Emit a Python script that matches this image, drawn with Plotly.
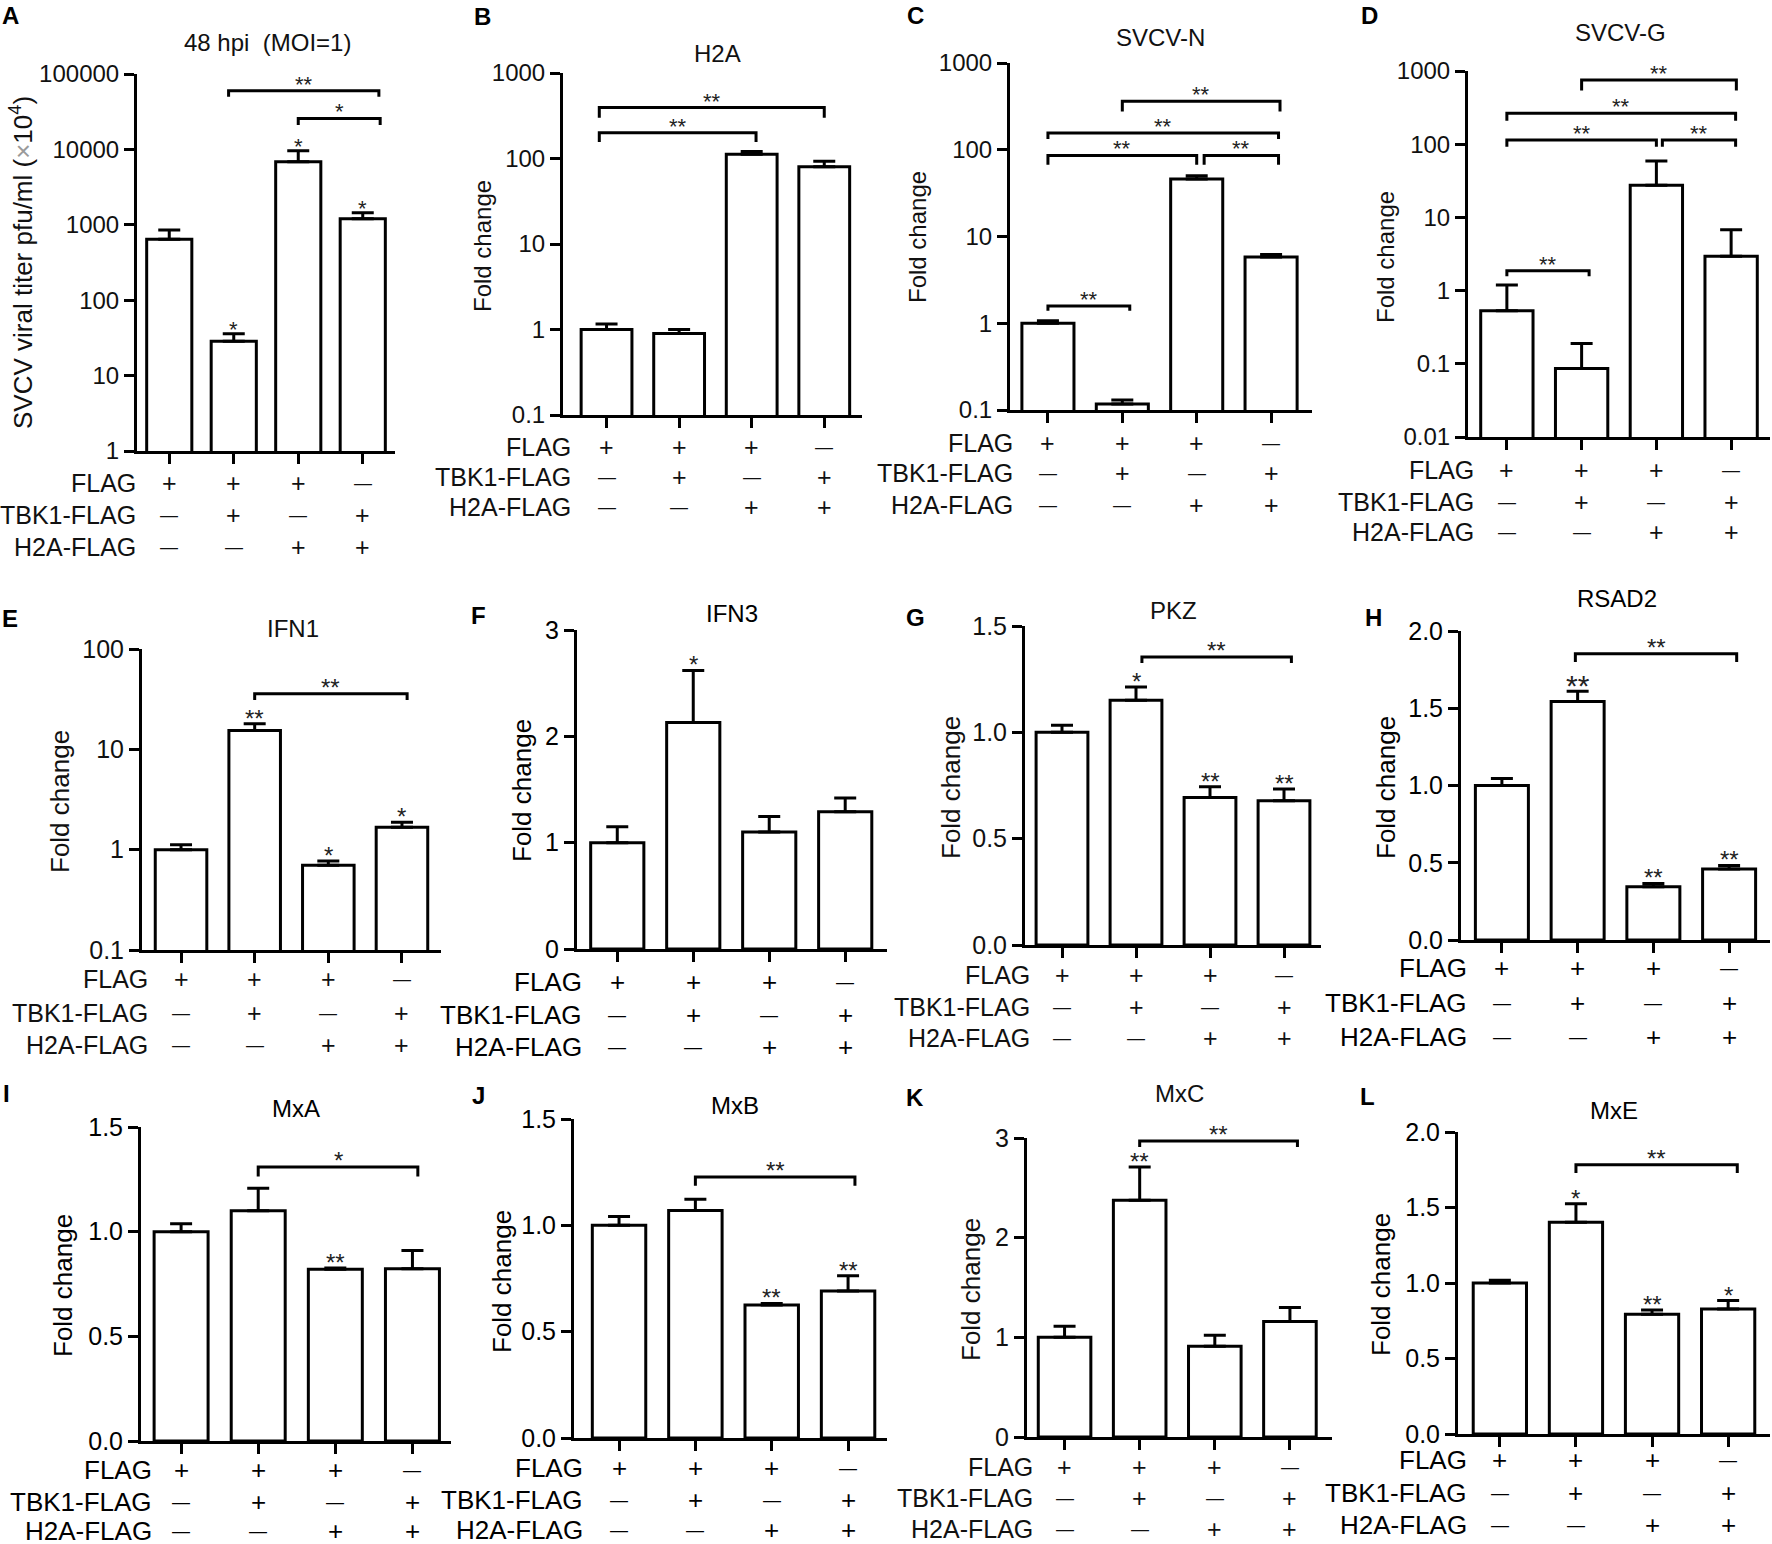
import math
import plotly.graph_objects as go

W, H = 1772, 1544
FONT = "Liberation Sans, Arial, sans-serif"

# ---------------- values ----------------
titles = ["48 hpi\u00a0\u00a0(MOI=1)", "H2A", "SVCV-N", "SVCV-G", "IFN1", "IFN3",
          "PKZ", "RSAD2", "MxA", "MxB", "MxC", "MxE"]
row_names = ["FLAG", "TBK1-FLAG", "H2A-FLAG"]
flag_signs = ["+", "+", "+", "\u2014"]
tbk1_signs = ["\u2014", "+", "\u2014", "+"]
h2a_signs = ["\u2014", "\u2014", "+", "+"]

a_mean = [645, 28.6, 6860, 1200]
a_sem = [205, 7.4, 2740, 240]
b_mean = [1.0, 0.90, 112, 80]
b_sem = [0.16, 0.10, 9, 13]
c_mean = [1.0, 0.117, 46, 5.8]
c_sem = [0.07, 0.013, 4, 0.4]
d_mean = [0.53, 0.086, 27.6, 2.95]
d_sem = [0.66, 0.103, 31.4, 3.85]
e_mean = [1.0, 15.4, 0.70, 1.67]
e_sem = [0.12, 2.6, 0.07, 0.21]
f_mean = [1.0, 2.13, 1.10, 1.29]
f_sem = [0.15, 0.49, 0.146, 0.13]
g_mean = [1.0, 1.151, 0.694, 0.678]
g_sem = [0.033, 0.062, 0.05, 0.056]
h_mean = [1.0, 1.543, 0.345, 0.459]
h_sem = [0.045, 0.067, 0.021, 0.024]
i_mean = [1.0, 1.10, 0.821, 0.823]
i_sem = [0.038, 0.108, 0.005, 0.087]
j_mean = [1.0, 1.07, 0.625, 0.691]
j_sem = [0.041, 0.053, 0.008, 0.072]
k_mean = [1.0, 2.375, 0.91, 1.16]
k_sem = [0.11, 0.335, 0.11, 0.14]
l_mean = [1.0, 1.403, 0.793, 0.827]
l_sem = [0.019, 0.122, 0.029, 0.057]

# y ticks
ticks_A = [1, 10, 100, 1000, 10000, 100000]
ticks_BC = [0.1, 1, 10, 100, 1000]
ticks_D = [0.01, 0.1, 1, 10, 100, 1000]
ticks_E = [0.1, 1, 10, 100]
ticks_3 = [0, 1, 2, 3]
ticks_15 = [0.0, 0.5, 1.0, 1.5]
ticks_20 = [0.0, 0.5, 1.0, 1.5, 2.0]

# stars over single bars
stars = {
    "A": ["", "*", "*", "*"],
    "E": ["", "**", "*", "*"],
    "F": ["", "*", "", ""],
    "G": ["", "*", "**", "**"],
    "H": ["", "**", "**", "**"],
    "I": ["", "", "**", ""],
    "J": ["", "", "**", "**"],
    "K": ["", "**", "", ""],
    "L": ["", "*", "**", "*"],
}

# comparison brackets: (from bar, to bar, bracket level, leg end, label)
brackets = {
    "A": [(0.92, 3.25, 60000, 50000, "**"), (2.0, 3.27, 25700, 21000, "*")],
    "B": [(-0.1, 3.0, 394, 300, "**"), (-0.1, 2.06, 200, 156, "**")],
    "C": [(0.0, 1.1, 1.58, 1.39, "**"), (0.0, 2.0, 86, 67, "**"),
          (2.1, 3.1, 86, 67, "**"), (0.0, 3.1, 156, 133, "**"),
          (1.0, 3.12, 363, 276, "**")],
    "D": [(0.0, 1.1, 1.86, 1.57, "**"), (0.0, 2.0, 114, 92, "**"),
          (2.08, 3.06, 114, 92, "**"), (0.0, 3.06, 265, 209, "**"),
          (1.0, 3.07, 753, 540, "**")],
    "E": [(1.0, 3.07, 35.8, 31, "**")],
    "G": [(1.08, 3.1, 1.354, 1.326, "**")],
    "H": [(0.97, 3.1, 1.853, 1.80, "**")],
    "I": [(1.0, 3.07, 1.309, 1.264, "*")],
    "J": [(1.0, 3.09, 1.227, 1.186, "**")],
    "K": [(1.0, 3.1, 2.97, 2.91, "**")],
    "L": [(1.0, 3.12, 1.783, 1.728, "**")],
}

series = {
    "A": (a_mean, a_sem, ticks_A), "B": (b_mean, b_sem, ticks_BC),
    "C": (c_mean, c_sem, ticks_BC), "D": (d_mean, d_sem, ticks_D),
    "E": (e_mean, e_sem, ticks_E), "F": (f_mean, f_sem, ticks_3),
    "G": (g_mean, g_sem, ticks_15), "H": (h_mean, h_sem, ticks_20),
    "I": (i_mean, i_sem, ticks_15), "J": (j_mean, j_sem, ticks_15),
    "K": (k_mean, k_sem, ticks_3), "L": (l_mean, l_sem, ticks_20),
}

# ---------------- layout of each panel (pixels) ----------------
PANELS = {
    "A": dict(box=(137, 395, 74, 451), xr=(-0.5, 3.5), log=True, rows=(483, 515, 547), lab_x=138,
              title=(267, 43), ytitle=(22, 263), letter=(10, 15), heavy=False),
    "B": dict(box=(563, 862, 73, 415), xr=(-0.6, 3.52), log=True, rows=(447, 477, 507), lab_x=573,
              title=(717, 53), ytitle=(482, 246), letter=(482, 16), heavy=False),
    "C": dict(box=(1010, 1312, 63, 410), xr=(-0.51, 3.55), log=True, rows=(443, 473, 505), lab_x=1015,
              title=(1160, 38), ytitle=(918, 237), letter=(915, 15), heavy=False),
    "D": dict(box=(1468, 1770, 71, 437), xr=(-0.52, 3.52), log=True, rows=(470, 502, 532), lab_x=1476,
              title=(1620, 33), ytitle=(1385, 257), letter=(1369, 15), heavy=False),
    "E": dict(box=(142, 441, 649, 950), xr=(-0.53, 3.53), log=True, rows=(979, 1013, 1045), lab_x=150,
              title=(293, 628), ytitle=(60, 802), letter=(10, 618), heavy=False),
    "F": dict(box=(577, 887, 630, 949), xr=(-0.53, 3.55), log=False, rows=(982, 1015, 1047), lab_x=584,
              title=(732, 613), ytitle=(522, 791), letter=(479, 615), heavy=True),
    "G": dict(box=(1025, 1321, 626, 945), xr=(-0.5, 3.5), log=False, rows=(975, 1007, 1038), lab_x=1032,
              title=(1173, 610), ytitle=(951, 787), letter=(915, 617), heavy=False),
    "H": dict(box=(1461, 1770, 631, 940), xr=(-0.54, 3.54), log=False, rows=(968, 1003, 1037), lab_x=1469,
              title=(1617, 598), ytitle=(1386, 788), letter=(1373, 617), heavy=True),
    "I": dict(box=(141, 451, 1127, 1441), xr=(-0.52, 3.5), log=False, rows=(1470, 1502, 1531), lab_x=154,
              title=(296, 1108), ytitle=(63, 1286), letter=(6, 1093), heavy=True),
    "J": dict(box=(574, 887, 1119, 1438), xr=(-0.59, 3.51), log=False, rows=(1468, 1500, 1530), lab_x=585,
              title=(735, 1105), ytitle=(502, 1282), letter=(479, 1095), heavy=True),
    "K": dict(box=(1027, 1332, 1138, 1437), xr=(-0.5, 3.56), log=False, rows=(1467, 1498, 1529), lab_x=1035,
              title=(1179, 1093), ytitle=(971, 1290), letter=(915, 1097), heavy=False),
    "L": dict(box=(1458, 1770, 1132, 1434), xr=(-0.55, 3.55), log=False, rows=(1460, 1493, 1525), lab_x=1469,
              title=(1614, 1110), ytitle=(1381, 1285), letter=(1367, 1096), heavy=True),
}

YTITLE_A = "SVCV viral titer pfu/ml (<span style='color:#9a9a9a'>\u00d7</span>10<sup>4</sup>)"


def pxx(x):
    return x / W


def pxy(y):
    return 1 - y / H


def paper_text(x, y, text, size, xanchor="center", **kw):
    """Text placed in pixel coordinates of the whole page."""
    return dict(x=pxx(x), y=pxy(y), xref="paper", yref="paper", xanchor=xanchor,
                yanchor="middle", text=text, showarrow=False,
                font=dict(family=FONT, size=size, color=kw.pop("color", "#111")), **kw)


fig = go.Figure()
annotations = []
layout_axes = {}

for n, (key, cfg) in enumerate(PANELS.items(), start=1):
    mean, sem, yt = series[key]
    sfx = "" if n == 1 else str(n)
    xa, ya = "x" + sfx, "y" + sfx
    left, right, top, bottom = cfg["box"]
    is_log = cfg["log"]
    top_row = n <= 4
    ink = "#000" if cfg["heavy"] else "#111"
    star_size = 22 if top_row else 24

    fig.add_trace(go.Bar(
        x=[0, 1, 2, 3], y=mean, width=0.7, xaxis=xa, yaxis=ya,
        marker=dict(color="white", line=dict(color="black", width=3)),
        error_y=dict(type="data", array=sem, arrayminus=[0] * 4, symmetric=False,
                     color="black", thickness=3, width=11),
        showlegend=False, hoverinfo="skip",
    ))

    # significance brackets
    for x0, x1, lev, leg, lab in brackets.get(key, []):
        fig.add_trace(go.Scatter(
            x=[x0, x0, x1, x1], y=[leg, lev, lev, leg], xaxis=xa, yaxis=ya,
            mode="lines", line=dict(color="black", width=3),
            showlegend=False, hoverinfo="skip",
        ))
        annotations.append(dict(
            x=(x0 + x1) / 2, y=math.log10(lev) if is_log else lev, xref=xa, yref=ya,
            text=lab, showarrow=False, xanchor="center", yanchor="bottom",
            yshift=-8 if top_row else -9,
            font=dict(family=FONT, size=star_size, color="#222")))

    # stars above single bars
    for i, s in enumerate(stars.get(key, [""] * 4)):
        if not s:
            continue
        top_val = mean[i] + sem[i]
        big = key == "H" and i == 1
        annotations.append(dict(
            x=i, y=math.log10(top_val) if is_log else top_val, xref=xa, yref=ya,
            text=s, showarrow=False, xanchor="center", yanchor="bottom",
            yshift=-13 if big else -10,
            font=dict(family=FONT, size=30 if big else star_size, color="#222")))

    # axes
    if is_log:
        ytext = [f"{v:g}" for v in yt]
        yrange = [math.log10(yt[0]), math.log10(yt[-1])]
    else:
        ytext = [f"{v:g}" if key in ("F", "K") else f"{v:.1f}" for v in yt]
        yrange = [yt[0], yt[-1]]

    layout_axes["xaxis" + sfx] = dict(
        domain=[pxx(left), pxx(right)], anchor=ya, range=list(cfg["xr"]),
        showline=True, linecolor="black", linewidth=3, ticks="outside", ticklen=10,
        tickwidth=3, tickcolor="black", tickvals=[0, 1, 2, 3], showticklabels=False,
        showgrid=False, zeroline=False, fixedrange=True)
    layout_axes["yaxis" + sfx] = dict(
        domain=[pxy(bottom), pxy(top)], anchor=xa, type="log" if is_log else "linear",
        range=yrange, showline=True, linecolor="black", linewidth=3, ticks="outside",
        ticklen=10, tickwidth=3, tickcolor="black", tickvals=yt, ticktext=ytext,
        tickfont=dict(family=FONT, size=24 if top_row else 25, color=ink),
        showgrid=False, zeroline=False, fixedrange=True)

    # +/- table under the axis
    lab_size = 26 if cfg["heavy"] else 25
    for r, (name, signs) in enumerate(zip(row_names, [flag_signs, tbk1_signs, h2a_signs])):
        yrow = cfg["rows"][r]
        annotations.append(paper_text(cfg["lab_x"], yrow, name, lab_size,
                                      xanchor="right", color=ink))
        for i, s in enumerate(signs):
            annotations.append(dict(
                x=i, y=pxy(yrow), xref=xa, yref="paper", text=s, showarrow=False,
                xanchor="center", yanchor="middle",
                font=dict(family=FONT, size=lab_size if s == "+" else 18, color=ink)))

    # title, y title, panel letter
    tx, ty = cfg["title"]
    annotations.append(paper_text(tx, ty, titles[n - 1], 24, color=ink))
    yx, yy = cfg["ytitle"]
    annotations.append(paper_text(yx, yy, YTITLE_A if key == "A" else "Fold change",
                                  26 if (key == "A" or not top_row) else 24,
                                  textangle=-90, color=ink))
    lx, ly = cfg["letter"]
    annotations.append(paper_text(lx, ly, f"<b>{key}</b>", 24, color="black", borderpad=0))

fig.update_layout(
    width=W, height=H, margin=dict(l=0, r=0, t=0, b=0, autoexpand=False),
    paper_bgcolor="white", plot_bgcolor="white",
    font=dict(family=FONT, color="#111"),
    annotations=annotations, showlegend=False,
    **layout_axes,
)

# the page's default 8px body margin would shift the whole figure
fig.write_html("out.html", config={"displayModeBar": False},
               post_script="document.body.style.margin = '0';")
